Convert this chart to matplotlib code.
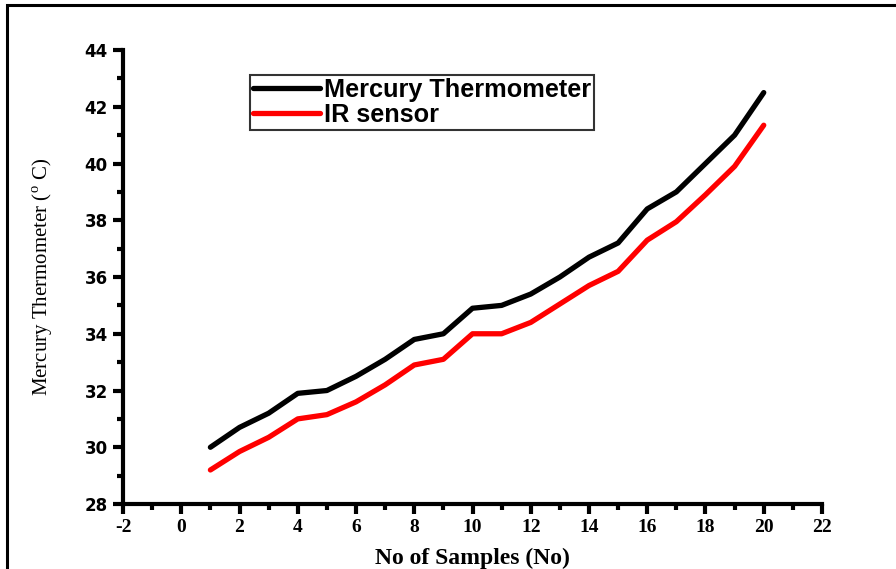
import matplotlib.pyplot as plt
from matplotlib.patches import Rectangle
from matplotlib.ticker import MultipleLocator

plt.rcParams["axes.unicode_minus"] = False
plt.rcParams["mathtext.fontset"] = "custom"
plt.rcParams["mathtext.rm"] = "Liberation Serif"

samples = list(range(1, 21))
mercury = [30.0, 30.7, 31.2, 31.9, 32.0, 32.5, 33.1, 33.8, 34.0, 34.9,
           35.0, 35.4, 36.0, 36.7, 37.2, 38.4, 39.0, 40.0, 41.0, 42.5]
ir_sensor = [29.2, 29.85, 30.35, 31.0, 31.15, 31.6, 32.2, 32.9, 33.1, 34.0,
             34.0, 34.4, 35.05, 35.7, 36.2, 37.3, 37.95, 38.9, 39.9, 41.35]

SERIF = "Liberation Serif"
SANS = "Liberation Sans"

fig = plt.figure(figsize=(8.96, 5.69), dpi=100)
ax = fig.add_axes([0.1373, 0.1142, 0.7801, 0.7979])

# outer frame (only top and left visible in the original crop)
fig.patches.append(Rectangle((7 / 896, -0.1), 1.2, 1.1 - 5 / 569,
                             transform=fig.transFigure, fill=False,
                             edgecolor="black", linewidth=2.2))

ax.plot(samples, mercury, color="black", lw=3.8, solid_capstyle="round",
        solid_joinstyle="round", label="Mercury Thermometer")
ax.plot(samples, ir_sensor, color="#ff0000", lw=3.8, solid_capstyle="round",
        solid_joinstyle="round", label="IR sensor")

ax.set_xlim(-2, 22)
ax.set_ylim(28, 44)
ax.xaxis.set_major_locator(MultipleLocator(2))
ax.xaxis.set_minor_locator(MultipleLocator(1))
ax.yaxis.set_major_locator(MultipleLocator(2))
ax.yaxis.set_minor_locator(MultipleLocator(1))

for side in ("top", "right"):
    ax.spines[side].set_visible(False)
for side in ("left", "bottom"):
    ax.spines[side].set_linewidth(3)

ax.tick_params(which="major", direction="out", length=7, width=3, pad=4)
ax.tick_params(which="minor", direction="out", length=4, width=3)

for lab in ax.get_yticklabels():
    lab.set_fontfamily("DejaVu Sans")
    lab.set_fontweight("bold")
    lab.set_fontsize(12)
for lab in ax.get_xticklabels():
    lab.set_fontfamily(SERIF)
    lab.set_fontweight("bold")
    lab.set_fontsize(14)

ax.set_xlabel("No of Samples (No)", fontfamily=SERIF, fontweight="bold",
              fontsize=17, labelpad=8)
ax.set_ylabel(r"Mercury Thermometer ($^{\mathrm{o}}$ C)", fontfamily=SERIF,
              fontsize=15, labelpad=21)

leg = ax.legend(loc="upper left", bbox_to_anchor=(0.182, 0.945),
                prop={"family": SANS, "weight": "bold", "size": 18.2},
                frameon=True, fancybox=False, handlelength=2.65,
                handletextpad=0.15, borderpad=0.12, labelspacing=0.05,
                borderaxespad=0.0)
leg.get_frame().set_edgecolor("black")
leg.get_frame().set_linewidth(1.5)

fig.savefig("out.png", dpi=100)
